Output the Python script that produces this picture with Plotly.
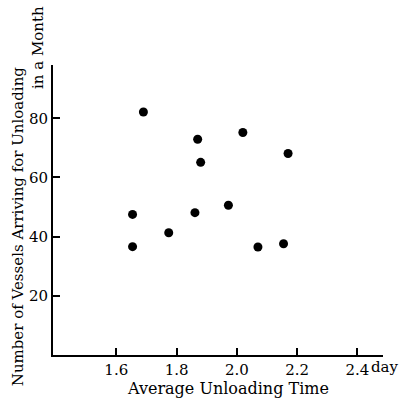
import plotly.graph_objects as go

unload_time = [1.69, 1.87, 1.88, 2.02, 2.17, 1.654, 1.654, 1.774, 1.861, 1.972, 2.07, 2.155]
vessels = [82.1, 72.9, 65.1, 75.2, 68.1, 47.5, 36.6, 41.3, 48.1, 50.6, 36.5, 37.6]
x_ticks = [1.6, 1.8, 2.0, 2.2, 2.4]
x_tick_labels = ["1.6", "1.8", "2.0", "2.2", "2.4"]
y_ticks = [20, 40, 60, 80]
y_tick_labels = ["20", "40", "60", "80"]

FONT = "DejaVu Serif"

fig = go.Figure()
fig.add_trace(go.Scatter(
    x=unload_time, y=vessels, mode="markers",
    marker=dict(color="black", size=9),
    showlegend=False, hoverinfo="skip",
))

fig.update_layout(
    width=410, height=398,
    margin=dict(l=53, r=27, t=65, b=43),
    paper_bgcolor="white", plot_bgcolor="white",
    font=dict(family=FONT, color="black", size=15),
    xaxis=dict(
        range=[1.39, 2.485], tickvals=x_ticks, ticktext=x_tick_labels,
        showgrid=False, zeroline=False, showline=True, linecolor="black", linewidth=2,
        ticks="inside", ticklen=7, tickwidth=1.5, tickcolor="black",
        tickfont=dict(family=FONT, size=15),
    ),
    yaxis=dict(
        range=[0, 98], tickvals=y_ticks, ticktext=y_tick_labels,
        showgrid=False, zeroline=False, showline=True, linecolor="black", linewidth=2,
        ticks="inside", ticklen=7, tickwidth=1.5, tickcolor="black",
        tickfont=dict(family=FONT, size=15),
    ),
)

fig.add_annotation(text="day", xref="paper", yref="paper", x=1.0, y=0, yshift=-12, xshift=-14,
                   xanchor="left", yanchor="middle", showarrow=False,
                   font=dict(family=FONT, size=15))
fig.add_annotation(text="Average Unloading Time", xref="paper", yref="paper",
                   x=0.53, y=0, yshift=-33, xanchor="center", yanchor="middle",
                   showarrow=False, font=dict(family=FONT, size=16))
fig.add_annotation(text="Number of Vessels Arriving for Unloading", xref="paper", yref="paper",
                   x=0, xshift=-35, y=0.444, yanchor="middle", xanchor="center", textangle=-90,
                   showarrow=False, font=dict(family=FONT, size=15))
fig.add_annotation(text="in a Month", xref="paper", yref="paper",
                   x=0, xshift=-15, y=1.0, yshift=17, yanchor="middle", xanchor="center", textangle=-90,
                   showarrow=False, font=dict(family=FONT, size=15))

fig.write_html("out.html")
